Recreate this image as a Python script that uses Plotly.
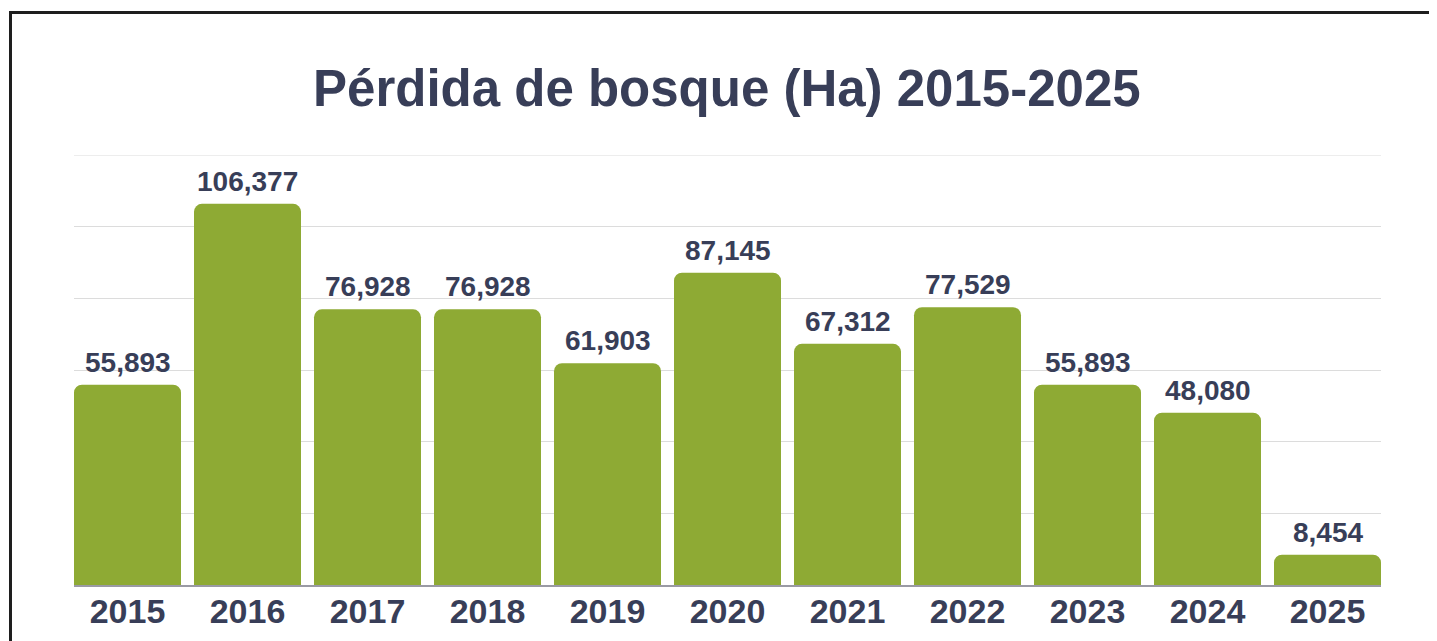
import plotly.graph_objects as go

years = ["2015", "2016", "2017", "2018", "2019", "2020", "2021", "2022", "2023", "2024", "2025"]
loss_ha = [55893, 106377, 76928, 76928, 61903, 87145, 67312, 77529, 55893, 48080, 8454]
title_text = "Pérdida de bosque (Ha) 2015-2025"

# page body has an 8px margin; work in figure pixels (screen - 8)
OFF = 8
W, H = 1437 - OFF, 641 - OFF
L, R, T, B = 74 - OFF, 1437 - 1381, 155 - OFF, 641 - 585
pw, ph = W - L - R, H - T - B

def px_x(p):
    return (p - OFF - L) / pw

def px_y(p):
    return (H - B - (p - OFF)) / ph

text_color = "#383e58"
bar_color = "#8eaa34"
grid_color = "#dcdcdc"
font_family = "Liberation Sans, Arial, sans-serif"
bargap = 13 / 120
half = (1 - bargap) / 2
y_step = 20000
y_max = 6 * y_step

fig = go.Figure()
fig.add_trace(go.Bar(
    x=years, y=loss_ha, marker=dict(color=bar_color, line=dict(width=0)),
    hoverinfo="x+y",
))

for i, v in enumerate(loss_ha):
    fig.add_annotation(
        x=i, y=v, text=f"<b>{v:,}</b>", showarrow=False, yanchor="bottom", yshift=5,
        font=dict(family=font_family, size=28, color=text_color),
    )

fig.add_annotation(
    xref="paper", yref="paper", x=px_x(727), y=px_y(88), text=f"<b>{title_text}</b>",
    showarrow=False, xanchor="center", yanchor="middle",
    font=dict(family=font_family, size=51, color=text_color),
)

# top gridline (at the axis maximum, which plotly does not draw itself)
fig.add_shape(
    type="line", xref="paper", yref="y", x0=0, x1=1, y0=y_max, y1=y_max,
    line=dict(color=grid_color, width=1), layer="below",
)

# frame
fig.add_shape(
    type="rect", xref="paper", yref="paper",
    x0=px_x(10.5), x1=px_x(1500), y0=px_y(12.5), y1=px_y(720),
    line=dict(color="#1e1e1e", width=3), layer="above",
)

fig.update_layout(
    width=W, height=H,
    margin=dict(l=L, r=R, t=T, b=B, autoexpand=False),
    paper_bgcolor="white", plot_bgcolor="white",
    bargap=bargap, barcornerradius=8,
    showlegend=False,
    xaxis=dict(
        type="category", automargin=False, range=[-half, len(years) - 1 + half],
        showgrid=False, showline=True, linecolor="#9a9aa4", linewidth=1.5,
        ticks="", tickfont=dict(family=font_family, size=34, color=text_color),
        tickprefix="<b>", ticksuffix="</b>", ticklabelstandoff=-5,
    ),
    yaxis=dict(
        automargin=False,
        range=[0, y_max], dtick=y_step, showgrid=True, gridcolor=grid_color, gridwidth=1,
        showticklabels=False, zeroline=False, fixedrange=True,
    ),
)

fig.write_html("out.html")
